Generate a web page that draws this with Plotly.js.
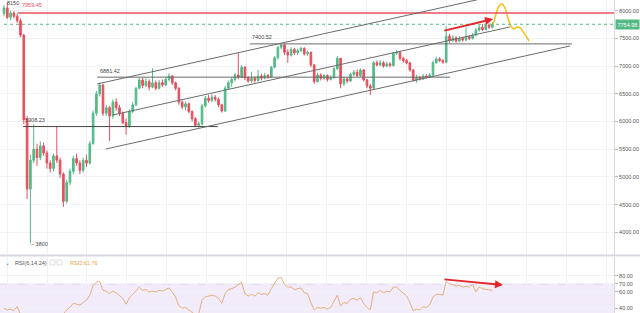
<!DOCTYPE html>
<html><head><meta charset="utf-8">
<script src="https://cdn.plot.ly/plotly-3.0.1.min.js"></script>
<style>html,body{margin:0;padding:0;background:#fff;}#chart{width:640px;height:313px;}</style>
</head><body><div id="chart"></div>
<script>
// ---- Candles (daily) ----
const priceOpen = [
 7950, 8050, 7880, 7960, 7900, 7820, 7560, 6030, 4780, 5300,
 5500, 5350, 5560, 5430, 5250, 5150, 5380, 5300, 5050, 4560,
 4900, 5100, 5330, 5250, 5120, 5300, 5250, 5600, 6150, 6500,
 6660, 6150, 6250, 6100, 6350, 6250, 6150, 5980, 5920, 6180,
 6300, 6600, 6750, 6650, 6720, 6620, 6700, 6600, 6700, 6660,
 6760, 6820, 6700, 6600, 6350, 6260, 6320, 6180, 6050, 5930,
 5960, 6280, 6420, 6380, 6440, 6400, 6300, 6190, 6600, 6700,
 6760, 6840, 6800, 6980, 6790, 6730, 6780, 6740, 6820, 6780,
 6830, 6800, 6980, 7150, 7340, 7380, 7250, 7200, 7300, 7240,
 7280, 7320, 7220, 7250, 7020, 6720, 6840, 6780, 6830, 6760,
 6790, 6950, 7140, 6680, 6770, 6730, 6850, 6890, 6830, 6930,
 6750, 6640, 6600, 7060, 7020, 7060, 7000, 7040, 7010, 7230,
 7250, 7140, 7100, 7060, 6930, 6750, 6800, 6770, 6820, 6800,
 6840, 7060, 7130, 7100, 7070, 7540, 7460, 7510, 7450, 7500,
 7470, 7530, 7500, 7560, 7650, 7700, 7660, 7740, 7700
];
const priceHigh = [
 8100, 8150, 8000, 7990, 7950, 7860, 7580, 6100, 5400, 5950,
 5600, 5640, 5620, 5480, 5300, 5420, 5900, 5350, 5080, 4950,
 5150, 5380, 5420, 5300, 5350, 5400, 5650, 6200, 6550, 6700,
 6680, 6300, 6280, 6400, 6420, 6300, 6180, 6050, 6220, 6350,
 6620, 6800, 6790, 6780, 6760, 6960, 6740, 6750, 6760, 6800,
 6870, 6840, 6720, 6620, 6380, 6360, 6340, 6200, 6080, 6000,
 6320, 6460, 6480, 6500, 6480, 6430, 6320, 6640, 6740, 6800,
 6880, 7240, 7020, 7000, 6820, 6900, 6820, 6930, 6860, 6880,
 6860, 7000, 7180, 7360, 7400.52, 7400, 7300, 7340, 7330, 7320,
 7350, 7340, 7280, 7260, 7040, 6880, 6870, 6860, 6850, 6830,
 6980, 7180, 7150, 6810, 6800, 6880, 6930, 6940, 6960, 6950,
 6770, 6680, 7090, 7100, 7110, 7090, 7080, 7070, 7260, 7290,
 7270, 7170, 7130, 7080, 6950, 6840, 6820, 6860, 6850, 6870,
 7100, 7170, 7160, 7130, 7720, 7580, 7560, 7540, 7540, 7530,
 7700, 7560, 7600, 7690, 7740, 7760, 7780, 7770, 7790
];
const priceLow = [
 7900, 7850, 7830, 7860, 7780, 7520, 5950, 4600, 3800, 5250,
 5200, 5300, 5380, 5150, 5080, 5100, 5250, 4980, 4460, 4520,
 4850, 5050, 5200, 5050, 5080, 5180, 5220, 5580, 6100, 6450,
 6100, 6100, 5650, 6050, 6200, 6100, 5950, 5760, 5880, 6150,
 6280, 6580, 6600, 6620, 6560, 6600, 6560, 6580, 6620, 6640,
 6720, 6660, 6560, 6300, 6220, 6200, 6150, 6000, 5900, 5890,
 5930, 6250, 6340, 6350, 6360, 6260, 6160, 6170, 6580, 6620,
 6720, 6760, 6780, 6750, 6700, 6700, 6700, 6720, 6740, 6760,
 6770, 6780, 6960, 7120, 7300, 7200, 7060, 7170, 7200, 7200,
 7250, 7190, 7180, 6980, 6680, 6700, 6740, 6750, 6720, 6740,
 6770, 6930, 6600, 6640, 6690, 6710, 6820, 6800, 6800, 6720,
 6600, 6480, 6580, 6990, 7000, 6970, 6980, 6980, 6990, 7200,
 7100, 7060, 7030, 6900, 6720, 6700, 6740, 6750, 6770, 6780,
 6820, 7040, 7070, 7040, 7050, 7420, 7430, 7420, 7430, 7440,
 7450, 7470, 7480, 7540, 7620, 7630, 7640, 7670, 7680
];
const priceClose = [
 8050, 7880, 7960, 7900, 7820, 7560, 6030, 4780, 5300, 5500,
 5350, 5560, 5430, 5250, 5150, 5380, 5300, 5050, 4560, 4900,
 5100, 5330, 5250, 5120, 5300, 5250, 5600, 6150, 6500, 6660,
 6150, 6250, 6100, 6350, 6250, 6150, 5980, 5920, 6180, 6300,
 6600, 6750, 6650, 6720, 6620, 6700, 6600, 6700, 6660, 6760,
 6820, 6700, 6600, 6350, 6260, 6320, 6180, 6050, 5930, 5960,
 6280, 6420, 6380, 6440, 6400, 6300, 6190, 6600, 6700, 6760,
 6840, 6800, 6980, 6790, 6730, 6780, 6740, 6820, 6780, 6830,
 6800, 6980, 7150, 7340, 7380, 7250, 7200, 7300, 7240, 7280,
 7320, 7220, 7250, 7020, 6720, 6840, 6780, 6830, 6760, 6790,
 6950, 7140, 6680, 6770, 6730, 6850, 6890, 6830, 6930, 6750,
 6640, 6600, 7060, 7020, 7060, 7000, 7040, 7010, 7230, 7250,
 7140, 7100, 7060, 6930, 6750, 6800, 6770, 6820, 6800, 6840,
 7060, 7130, 7100, 7070, 7540, 7460, 7510, 7450, 7500, 7470,
 7530, 7500, 7560, 7650, 7700, 7660, 7740, 7700, 7754.98
];
// ---- RSI ----
const rsiValues = [
 40, 38, 39, 37, 42, 30, 18, 12, 20, 24,
 22, 26, 24, 21, 19, 25, 23, 20, 33, 38,
 41, 46, 45, 44, 47, 50, 56, 68, 72, 73,
 62, 61, 58, 61, 59, 56, 52, 45, 53, 57,
 62, 66, 62, 63, 60, 61, 60, 62, 61, 63,
 65, 60, 54, 43, 40, 41, 38, 34, 32, 33,
 50, 54, 55, 56, 55, 52, 46, 58, 63, 64,
 66, 69, 72, 58, 55, 57, 55, 59, 57, 58,
 56, 64, 71, 77, 78, 69, 66, 66, 63, 64,
 65, 59, 58, 47, 38, 41, 40, 41, 39, 41,
 48, 56, 43, 47, 46, 51, 52, 50, 53, 46,
 41, 38, 60, 59, 62, 59, 61, 60, 66, 66,
 62, 58, 55, 47, 37, 39, 38, 42, 41, 44,
 54, 57, 57, 56, 73, 70, 69, 67, 68, 66,
 67, 66, 69, 60, 66, 64, 63, 62, 61.76
];
// ---- axis ticks ----
const priceTicks = [4000, 4500, 5000, 5500, 6000, 6500, 7000, 7500, 8000];
const rsiTicks = [40, 60, 70, 80];
// ---- drawings (bar index, price) ----
const levelRed = 7959.45;
const lastPrice = 7754.98;
const forecastX = [148.2, 149.1, 150.0, 150.9, 151.8, 152.7, 153.6, 154.5, 155.5, 156.4, 157.6, 159.1];
const forecastY = [7742, 7940, 8085, 8121, 8049, 7868, 7724, 7670, 7706, 7688, 7597, 7453];

const idx = priceClose.map((_, i) => i);
const GREEN = '#53b987', RED = '#eb4d5c';
const FONT = 'Liberation Sans, Arial, sans-serif';

const traces = [
  {
    type: 'candlestick', x: idx, open: priceOpen, high: priceHigh, low: priceLow, close: priceClose,
    xaxis: 'x', yaxis: 'y',
    increasing: {line: {color: GREEN, width: 1}, fillcolor: GREEN},
    decreasing: {line: {color: RED, width: 1}, fillcolor: RED},
    whiskerwidth: 0, hoverinfo: 'skip'
  },
  {
    type: 'scatter', mode: 'lines', x: forecastX, y: forecastY, xaxis: 'x', yaxis: 'y',
    line: {color: '#f5c211', width: 1.5, shape: 'spline', smoothing: 1}, hoverinfo: 'skip'
  },
  {
    type: 'scatter', mode: 'lines', x: idx, y: rsiValues, xaxis: 'x', yaxis: 'y2',
    line: {color: '#e6b07e', width: 1}, hoverinfo: 'skip'
  }
];

const lineGrey = {color: '#6b6b6b', width: 1};
const shapes = [
  // RSI band
  {type: 'rect', xref: 'paper', x0: 0, x1: 1, yref: 'y2', y0: 30, y1: 70, fillcolor: 'rgba(155,110,220,0.14)', line: {width: 0}, layer: 'below'},
  {type: 'line', xref: 'paper', x0: 0, x1: 1, yref: 'y2', y0: 70, y1: 70, line: {color: '#c9b3e8', width: 1, dash: 'dash'}, layer: 'below'},
  // pane separator
  {type: 'line', xref: 'paper', x0: 0, x1: 1.05, yref: 'paper', y0: 0.1835, y1: 0.1835, line: {color: '#d6d9e0', width: 2}},
  // horizontal levels
  {type: 'line', xref: 'x', x0: 4.2, x1: 190, yref: 'y', y0: levelRed, y1: levelRed, line: {color: '#e8505c', width: 1.5}},
  {type: 'line', xref: 'x', x0: 0, x1: 190, yref: 'y', y0: lastPrice, y1: lastPrice, line: {color: GREEN, width: 1, dash: 'dot'}},
  {type: 'line', xref: 'x', x0: 5.8, x1: 64.8, yref: 'y', y0: 5908.23, y1: 5908.23, line: {color: '#444', width: 1}},
  {type: 'line', xref: 'x', x0: 28.2, x1: 135.2, yref: 'y', y0: 6800, y1: 6800, line: lineGrey},
  {type: 'line', xref: 'x', x0: 74.5, x1: 172.1, yref: 'y', y0: 7400.52, y1: 7400.52, line: lineGrey},
  // channel
  {type: 'line', xref: 'x', x0: 28.2, x1: 145.2, yref: 'y', y0: 6677, y1: 8221, line: lineGrey},
  {type: 'line', xref: 'x', x0: 33.0, x1: 153.3, yref: 'y', y0: 6117, y1: 7706, line: lineGrey},
  {type: 'line', xref: 'x', x0: 30.9, x1: 171.5, yref: 'y', y0: 5504, y1: 7363, line: lineGrey},
  // RSI header buttons
  {type: 'rect', xref: 'paper', yref: 'paper', x0: 50 / 614, x1: 55 / 614, y0: (313 - 265) / 313, y1: (313 - 260) / 313, line: {color: '#dddddd', width: 1}},
  {type: 'rect', xref: 'paper', yref: 'paper', x0: 57 / 614, x1: 62 / 614, y0: (313 - 265) / 313, y1: (313 - 260) / 313, line: {color: '#dddddd', width: 1}}
];

const lbl = {size: 5.5, color: '#444', family: FONT};
const annotations = [
  {xref: 'x', yref: 'y', x: 0.2, y: 8140, text: '8150', showarrow: false, xanchor: 'left', yanchor: 'middle', font: lbl},
  {xref: 'x', yref: 'y', x: 4.9, y: 8100, text: '7959.45', showarrow: false, xanchor: 'left', yanchor: 'middle', font: {size: 5.5, color: '#e8505c', family: FONT}},
  {xref: 'x', yref: 'y', x: 5.8, y: 6018, text: '5908.23', showarrow: false, xanchor: 'left', yanchor: 'middle', font: lbl},
  {xref: 'x', yref: 'y', x: 28.5, y: 6912, text: '6881.42', showarrow: false, xanchor: 'left', yanchor: 'middle', font: lbl},
  {xref: 'x', yref: 'y', x: 74.5, y: 7525, text: '7400.52', showarrow: false, xanchor: 'left', yanchor: 'middle', font: lbl},
  {xref: 'x', yref: 'y', x: 7.6, y: 3789, text: '– 3800', showarrow: false, xanchor: 'left', yanchor: 'middle', font: lbl},
  // price tag
  {xref: 'paper', yref: 'y', x: 1, y: lastPrice, text: lastPrice.toFixed(2), showarrow: false, xanchor: 'left', yanchor: 'middle', xshift: 1,
   bgcolor: GREEN, borderpad: 1.5, font: {size: 5.5, color: '#ffffff', family: FONT}},
  // arrows
  {xref: 'x', yref: 'y', axref: 'x', ayref: 'y', x: 148.2, y: 7850, ax: 133.0, ay: 7634, text: '', showarrow: true,
   arrowhead: 2, arrowsize: 0.8, arrowwidth: 2, arrowcolor: '#e3262c'},
  {xref: 'x', yref: 'y2', axref: 'x', ayref: 'y2', x: 151.2, y: 68.6, ax: 133.0, ay: 75.6, text: '', showarrow: true,
   arrowhead: 2, arrowsize: 0.8, arrowwidth: 2, arrowcolor: '#e3262c'},
  // RSI header
  {xref: 'paper', yref: 'paper', x: 3 / 614, y: (313 - 262.5) / 313, text: '⌄', showarrow: false, xanchor: 'left', yanchor: 'middle', font: {size: 6, color: '#777', family: FONT}},
  {xref: 'paper', yref: 'paper', x: 13 / 614, y: (313 - 262.5) / 313, text: 'RSI(6,14,24)', showarrow: false, xanchor: 'left', yanchor: 'middle', font: {size: 5.6, color: '#555', family: FONT}},
  {xref: 'paper', yref: 'paper', x: 68 / 614, y: (313 - 262.5) / 313, text: 'RSI2:61.76', showarrow: false, xanchor: 'left', yanchor: 'middle', font: {size: 5.5, color: '#f0a23a', family: FONT}}
];

const tickFont = {size: 5.5, color: '#555', family: FONT};
const layout = {
  width: 640, height: 313, autosize: false,
  margin: {l: 0, r: 26, t: 0, b: 0, pad: 0},
  paper_bgcolor: '#ffffff', plot_bgcolor: '#ffffff',
  showlegend: false, hovermode: false,
  xaxis: {
    range: [-1.212, 184.85], showticklabels: false, rangeslider: {visible: false},
    showgrid: true, gridcolor: '#eef0f4', gridwidth: 1, tick0: 0.91, dtick: 12.12, tickmode: 'linear',
    zeroline: false, showline: false, anchor: 'y2', fixedrange: true
  },
  yaxis: {
    domain: [0.1853, 1], range: [3590, 8193], side: 'right', anchor: 'x',
    tickmode: 'array', tickvals: priceTicks, ticktext: priceTicks.map(v => v.toFixed(2)),
    tickfont: tickFont, ticks: 'outside', ticklen: 3, tickcolor: '#bbb',
    showgrid: true, gridcolor: '#f1f2f6', zeroline: false,
    showline: true, linecolor: '#d6d9e0', linewidth: 1
  },
  yaxis2: {
    domain: [0, 0.179], range: [34.2, 102.9], side: 'right', anchor: 'x',
    tickmode: 'array', tickvals: rsiTicks, ticktext: rsiTicks.map(v => v.toFixed(2)),
    tickfont: tickFont, ticks: 'outside', ticklen: 3, tickcolor: '#bbb',
    showgrid: true, gridcolor: '#f1f2f6', zeroline: false,
    showline: true, linecolor: '#d6d9e0', linewidth: 1
  },
  shapes: shapes,
  annotations: annotations
};

Plotly.newPlot('chart', traces, layout, {staticPlot: true, displayModeBar: false});
</script>
</body></html>
